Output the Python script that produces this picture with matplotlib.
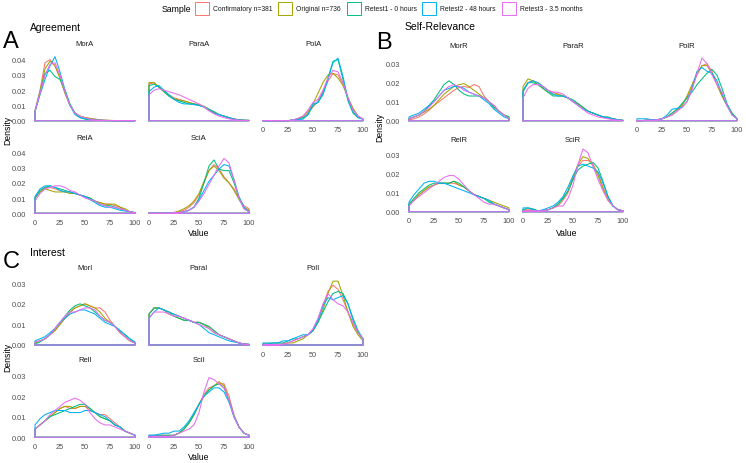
import matplotlib
matplotlib.use("Agg")
import matplotlib.pyplot as plt
from matplotlib.patches import Rectangle
from matplotlib.ticker import FormatStrFormatter

plt.rcParams['font.family'] = ['Liberation Sans', 'DejaVu Sans']

x_vals = list(range(0, 101, 5))
samples = ["Confirmatory n=381", "Original n=736", "Retest1 - 0 hours",
           "Retest2 - 48 hours", "Retest3 - 3.5 months"]
colors = ["#F8766D", "#A3A500", "#00BF7D", "#00B0F6", "#E76BF3"]

# density x 0.001 at x = 0, 5, ..., 100; rows: Confirmatory, Original, Retest1, Retest2, Retest3
# Agreement
mor_a = [[7, 20, 38, 40, 36, 28, 18, 10, 5, 3, 2, 1.5, 1, 0.5, 0.3, 0.2, 0.1, 0, 0, 0, 0],
         [6, 19, 34, 39, 36, 28, 18, 10, 5, 3, 2, 1.5, 1, 0.5, 0.3, 0.2, 0.1, 0, 0, 0, 0],
         [6, 18, 31, 33, 29, 27, 20, 11, 5, 2, 1, 0.5, 0.3, 0.2, 0.1, 0, 0, 0, 0, 0, 0],
         [6, 17, 27, 36, 42, 32, 20, 10, 4, 2, 1.5, 1, 0.5, 0.3, 0.2, 0.1, 0, 0, 0, 0, 0],
         [6, 18, 30, 37, 38, 30, 19, 10, 5, 3, 2, 1, 0.5, 0.3, 0.2, 0.1, 0, 0, 0, 0, 0]]
para_a = [[24, 25, 22, 19, 17, 15, 14, 13, 12, 11, 10.5, 9, 7, 5, 4, 3, 2, 1, 0.6, 0.3, 0.2],
          [25, 25, 22, 19, 16.5, 14.5, 13.5, 13, 12, 11, 10.5, 9.5, 7.5, 5.5, 4, 3, 2, 1.2, 0.6, 0.3, 0.2],
          [23, 24, 22, 19, 16, 14, 13, 12, 11, 11, 10, 9, 7.5, 6, 4, 3, 2, 1, 0.6, 0.3, 0.2],
          [19, 22, 23, 20, 17, 14, 12, 11, 11, 10.5, 10, 9, 7, 5, 4, 3, 2, 1, 0.5, 0.3, 0.2],
          [17, 20, 21, 20, 19, 18, 17, 15.5, 14, 12.5, 11, 9, 6.5, 4.5, 3, 2, 1.2, 0.7, 0.4, 0.2, 0.1]]
pol_a = [[0, 0, 0, 0, 0, 0, 0.5, 1, 2, 5, 9, 13, 19, 26, 31, 30, 24, 15, 8, 3, 1],
         [0, 0, 0, 0, 0, 0, 0.5, 1.5, 3, 6, 11, 18, 25, 30, 31, 28, 23, 15, 8, 3, 1],
         [0, 0, 0, 0, 0, 0, 0.5, 1, 2, 4, 10, 12, 18, 28, 39, 40, 27, 13, 5, 2, 1],
         [0, 0, 0, 0, 0, 0, 0.5, 0.8, 1, 4, 11, 12, 17, 27, 38, 41, 29, 14, 6, 2, 1],
         [0, 0, 0, 0, 0, 0, 0.5, 1.5, 3, 7, 12, 14, 20, 28, 33, 32, 25, 15, 7, 3, 1]]
rel_a = [[10, 14, 17, 17, 16, 15, 14, 14, 13, 12, 11, 9, 8, 7, 6, 6, 5, 4, 2, 1, 0.5],
         [10, 14, 16, 15, 14, 14, 14, 13, 13, 12, 11, 10, 8, 7, 6, 6, 6, 4, 3, 1, 0.5],
         [10, 15, 17, 18, 17, 16, 15, 14, 13, 12, 11, 10, 8, 6, 5, 5, 4, 3, 2, 1, 0.5],
         [11, 16, 18, 18, 17, 15, 14, 14, 13, 12, 11, 9, 7, 5, 4, 4, 3, 2, 1.5, 1, 0.3],
         [8, 13, 16, 17, 18, 18, 17, 15, 14, 12, 10, 9, 8, 6, 5, 4, 4, 3, 2, 1, 0.3]]
sci_a = [[0, 0, 0, 0, 0, 0.5, 1, 2, 4, 7, 12, 20, 28, 32, 29, 24, 20, 16, 10, 5, 3],
         [0, 0, 0, 0, 0, 0.5, 1.5, 3, 5, 8, 13, 21, 28, 31, 28, 23, 20, 15, 9, 4, 2],
         [0, 0, 0, 0, 0, 0.3, 0.5, 1, 2, 4, 10, 20, 31, 35, 29, 28, 28, 20, 10, 3, 1],
         [0, 0, 0, 0, 0, 0.3, 0.5, 1, 2, 4, 9, 15, 21, 25, 29, 32, 31, 22, 11, 4, 1],
         [0, 0, 0, 0, 0, 0.3, 0.5, 1, 2, 4, 8, 13, 19, 25, 31, 36, 33, 22, 10, 3, 1]]

# Self-Relevance
mor_r = [[0.5, 1, 2, 3.5, 5.5, 8, 10, 12, 14, 16, 17.5, 18, 17.5, 19, 18, 13, 10, 8, 5, 3, 1],
         [1, 2, 3, 4.5, 6, 8, 11, 14, 16, 18, 19, 19.5, 18, 16, 14, 12, 10, 7, 5, 3, 2],
         [1, 2, 3, 5, 8, 11, 15, 19, 21, 19, 16, 14, 13, 13, 13, 12, 10, 7, 5, 3, 2],
         [2, 3, 4, 6, 8, 10, 13, 16, 17, 18, 18, 17, 15, 14, 13, 11, 9, 6, 4, 2, 1],
         [1, 2, 3, 5, 7, 10, 13, 16, 18, 19, 18, 16, 15, 14, 13, 12, 10, 8, 5, 3, 1]]
para_r = [[16, 20, 21, 20, 18, 16, 15, 14, 13, 12, 10, 9, 7, 5, 4, 3, 2, 1.5, 1, 0.5, 0.2],
          [18, 22, 21, 19, 17, 15, 14, 14, 13, 12, 10, 9, 7, 5, 4, 3, 2, 1.5, 1, 0.5, 0.2],
          [15, 20, 20, 19, 17, 15, 13, 13, 13, 12, 11, 9, 7, 5, 4, 3, 2, 2, 1, 0.5, 0.2],
          [16, 20, 21, 20, 18, 16, 14, 13, 13, 12, 10, 8, 6, 5, 4, 3, 2, 1.5, 1, 0.5, 0.2],
          [12, 17, 19, 19, 18, 16, 15, 15, 14, 12, 10, 8, 6, 4, 3, 2, 1.5, 1, 0.5, 0.3, 0.1]]
pol_r = [[0, 0, 0.5, 0.5, 0.5, 1, 2, 4, 6, 8, 12, 18, 24, 29, 30, 26, 19, 13, 8, 4, 1],
         [0, 0, 0.3, 0.3, 0.5, 1, 2, 3, 5, 8, 13, 19, 25, 29, 29, 25, 19, 13, 8, 4, 1],
         [0, 0, 0.3, 0.3, 0.5, 1, 2, 4, 6, 9, 12, 15, 19, 22, 25, 27, 24, 17, 9, 4, 1],
         [1, 1, 1, 0.5, 0.5, 1, 3, 6, 6.5, 7, 10, 17, 26, 28, 26, 25, 21, 14, 8, 3, 1],
         [0, 0, 0.3, 0.3, 0.5, 1, 2, 3, 5, 7, 10, 16, 25, 33, 30, 24, 19, 15, 8, 3, 1]]
rel_r = [[4, 6, 9, 11, 13, 14, 15, 15, 15, 15, 14, 13, 11, 9, 8, 7, 6, 4, 3, 2, 1],
         [4, 6, 9, 11, 13, 14, 15, 15, 15, 16, 14, 13, 11, 9, 8, 7, 6, 5, 4, 3, 2],
         [4, 7, 10, 12, 14, 15, 15, 15, 15, 16, 15, 13, 11, 9, 8, 7, 5, 4, 3, 2, 1],
         [5, 9, 12, 15, 16, 16, 15, 15, 14, 13, 12, 11, 10, 9, 8, 7, 6, 4, 3, 2, 1],
         [3, 6, 8, 10, 12, 14, 16, 18, 19, 19, 17, 14, 11, 9, 7, 5, 4, 4, 3, 2, 1]]
sci_r = [[1, 1, 1, 0.5, 0.5, 1, 2, 3, 6, 10, 17, 24, 27, 27, 25, 20, 13, 7, 3, 1, 0.5],
         [0.5, 0.5, 0.5, 0.5, 0.5, 1, 2, 4, 7, 11, 18, 25, 29, 28, 24, 19, 12, 6, 3, 1, 0.5],
         [1, 2, 1.5, 0.5, 0.5, 1, 2, 4, 7, 11, 17, 22, 24, 25, 26, 23, 16, 8, 3, 1, 0.5],
         [2, 2, 1, 0.5, 1, 2, 3, 5, 8, 13, 19, 24, 25, 24, 23, 21, 15, 8, 3, 1, 0.5],
         [0.5, 0.5, 0.5, 0.5, 0.5, 1, 2, 3, 3, 7, 14, 25, 33, 31, 24, 17, 11, 6, 3, 1, 0.5]]

# Interest
mor_i = [[1, 2, 3, 5, 7, 10, 13, 16, 18, 19, 20, 19, 18, 18, 16, 12, 9, 6, 4, 2, 1],
         [1, 2, 3, 5, 7, 10, 13, 16, 18, 19, 20, 19, 18, 16, 13, 11, 9, 6, 4, 2, 1],
         [0.5, 1.5, 3, 5, 8, 11, 14, 17, 19, 20, 19, 18, 16, 14, 12, 11, 9, 7, 5, 3, 1],
         [2, 3, 4, 6, 8, 11, 13, 15, 16, 17, 17, 16, 15, 13, 11, 10, 9, 7, 5, 3, 1.5],
         [1.5, 2, 3, 5, 8, 11, 14, 16, 16, 17, 18, 18, 17, 14, 12, 11, 9, 6, 4, 2, 1]]
para_i = [[15, 18, 18, 17, 16, 15, 14, 13, 12, 11, 11, 10, 9, 7, 5, 4, 3, 2, 1, 0.5, 0.3],
          [15, 18, 18, 17, 15, 14, 13, 12, 12, 11, 11, 10, 8, 6, 5, 4, 3, 2, 1, 0.5, 0.3],
          [15, 18, 18, 17, 16, 14, 13, 12, 12, 11, 11, 10, 9, 7, 5, 4, 3, 2, 1, 0.5, 0.3],
          [13, 16, 18, 17, 16, 15, 14, 13, 12, 11, 10, 8, 6, 5, 4, 3, 2, 1.5, 1, 0.5, 0.3],
          [13, 16, 16, 16, 15, 14, 14, 13, 12, 11, 10, 9, 8, 6, 5, 4, 3, 2, 1, 0.5, 0.3]]
pol_i = [[0.5, 0.5, 0.5, 0.5, 0.5, 1, 2, 3, 4, 5, 7, 12, 19, 26, 29, 27, 22, 16, 10, 6, 3],
         [0, 0, 0, 0, 0.5, 1, 1, 2, 3, 5, 7, 11, 17, 25, 31, 31, 24, 16, 9, 5, 2],
         [0.5, 0.5, 1, 1, 1, 2, 3, 3, 4, 5, 7, 11, 16, 21, 25, 26, 25, 20, 13, 7, 3],
         [1, 1, 1, 1, 2, 2, 3, 4, 5, 5, 7, 12, 19, 23, 22, 23, 24, 20, 12, 6, 3],
         [0, 0, 0, 0, 0.5, 1, 2, 3, 4, 5, 8, 13, 20, 25, 22, 20, 19, 16, 11, 6, 3]]
rel_i = [[4, 6, 8, 10, 12, 14, 15, 14, 14, 15, 15, 13, 12, 11, 11, 9, 7, 5, 3, 2, 1],
         [4, 6, 8, 10, 12, 14, 15, 15, 14, 15, 15, 14, 12, 10, 9, 8, 6, 5, 3, 2, 1],
         [4, 6, 8, 10, 11, 12, 13, 14, 15, 16, 16, 14, 12, 10, 9, 8, 6, 5, 3, 2, 1],
         [6, 9, 11, 12, 13, 13, 13, 12, 12, 12, 13, 13, 12, 11, 10, 8, 6, 5, 3, 2, 1],
         [4, 6, 8, 11, 13, 15, 17, 18, 19, 18, 16, 12, 9, 7, 6, 6, 5, 4, 3, 2, 1]]
sci_i = [[0.5, 0.5, 1, 1, 1, 1, 2, 4, 7, 11, 16, 21, 24, 25, 26, 26, 20, 11, 5, 2, 1],
         [0.5, 0.5, 0.5, 0.5, 0.5, 1, 2, 4, 7, 11, 16, 20, 23, 25, 27, 25, 18, 10, 5, 2, 1],
         [1, 1, 1, 1, 1, 1, 2, 4, 7, 11, 16, 20, 23, 25, 26, 24, 18, 10, 5, 2, 1],
         [1, 1, 1.5, 2, 2, 3, 3, 5, 8, 12, 16, 20, 22, 24, 24, 22, 17, 10, 5, 2, 1],
         [0.5, 0.5, 0.5, 0.5, 0.5, 1, 2, 3, 4, 6, 12, 22, 29, 28, 26, 24, 18, 10, 5, 2, 1]]

W, H = 746, 464
fig = plt.figure(figsize=(W / 100, H / 100), dpi=100)


def fx(px):
    return px / W


def fy(py):
    return 1 - py / H


groups = [
    dict(title="Agreement", letter="A", title_xy=(30, 28), letter_xy=(3, 42),
         names=["MorA", "ParaA", "PolA", "RelA", "SciA"],
         data=[mor_a, para_a, pol_a, rel_a, sci_a],
         cols=[35, 149, 263], zeros=[121.7, 214.3], scale=15.25,
         ylim=(-0.0015, 0.046), yticks=[0, 0.01, 0.02, 0.03, 0.04],
         strips=[44, 138], dens_xy=(8, 130), value_xy=(199, 233)),
    dict(title="Self-Relevance", letter="B", title_xy=(405, 27), letter_xy=(376, 43),
         names=["MorR", "ParaR", "PolR", "RelR", "SciR"],
         data=[mor_r, para_r, pol_r, rel_r, sci_r],
         cols=[409, 523, 637], zeros=[121.7, 212.7], scale=19.0,
         ylim=(-0.0012, 0.035), yticks=[0, 0.01, 0.02, 0.03],
         strips=[46, 140], dens_xy=(380, 127), value_xy=(567, 233)),
    dict(title="Interest", letter="C", title_xy=(30, 253), letter_xy=(3, 262),
         names=["MorI", "ParaI", "PolI", "RelI", "SciI"],
         data=[mor_i, para_i, pol_i, rel_i, sci_i],
         cols=[35, 149, 263], zeros=[346, 438.3], scale=20.6,
         ylim=(-0.001, 0.034), yticks=[0, 0.01, 0.02, 0.03],
         strips=[269, 361], dens_xy=(8, 357), value_xy=(199, 458)),
]

tick_col = "#4D4D4D"

for g in groups:
    lo, hi = g["ylim"]
    for i, name in enumerate(g["names"]):
        row, col = divmod(i, 3)
        zero = g["zeros"][row]
        top = zero - hi / 0.01 * g["scale"]
        bot = zero - lo / 0.01 * g["scale"]
        left = g["cols"][col] - 5
        ax = fig.add_axes([fx(left), fy(bot), fx(110), (bot - top) / H])
        for k, vals in enumerate(g["data"][i]):
            xs = [0] + x_vals + [100, 0]
            ys = [0] + [v / 1000 for v in vals] + [0, 0]
            ax.plot(xs, ys, color=colors[k], lw=0.75, solid_joinstyle="round")
        ax.set_xlim(-5, 105)
        ax.set_ylim(lo, hi)
        ax.set_xticks([0, 25, 50, 75, 100])
        ax.set_yticks(g["yticks"])
        ax.yaxis.set_major_formatter(FormatStrFormatter("%.2f"))
        ax.tick_params(length=0, labelsize=5.3, colors=tick_col, pad=2.5)
        if not (row == 1 or col == 2):
            ax.set_xticklabels([])
        if col != 0:
            ax.set_yticklabels([])
        for s in ax.spines.values():
            s.set_visible(False)
        fig.text(fx(g["cols"][col] + 50), fy(g["strips"][row]), name,
                 ha="center", va="center", fontsize=5.5, color="#1A1A1A")
    fig.text(fx(g["title_xy"][0]), fy(g["title_xy"][1]), g["title"],
             ha="left", va="center", fontsize=7.5)
    fig.text(fx(g["letter_xy"][0]), fy(g["letter_xy"][1]), g["letter"],
             ha="left", va="center", fontsize=17)
    fig.text(fx(g["dens_xy"][0]), fy(g["dens_xy"][1]), "Density",
             ha="center", va="center", rotation=90, fontsize=6.2)
    fig.text(fx(g["value_xy"][0]), fy(g["value_xy"][1]), "Value",
             ha="center", va="center", fontsize=6.2)

# legend
fig.text(fx(162), fy(9.5), "Sample", ha="left", va="center", fontsize=6.3)
key_x = [195, 278, 347, 422, 502]
for k, lab in enumerate(samples):
    fig.patches.append(Rectangle((fx(key_x[k]), fy(16)), fx(13.5), 13 / H,
                                 transform=fig.transFigure, facecolor="white",
                                 edgecolor=colors[k], lw=0.7))
    fig.text(fx(key_x[k] + 18), fy(9.5), lab, ha="left", va="center",
             fontsize=4.9, color="#1A1A1A")

fig.savefig("out.png", dpi=100, facecolor="white")
